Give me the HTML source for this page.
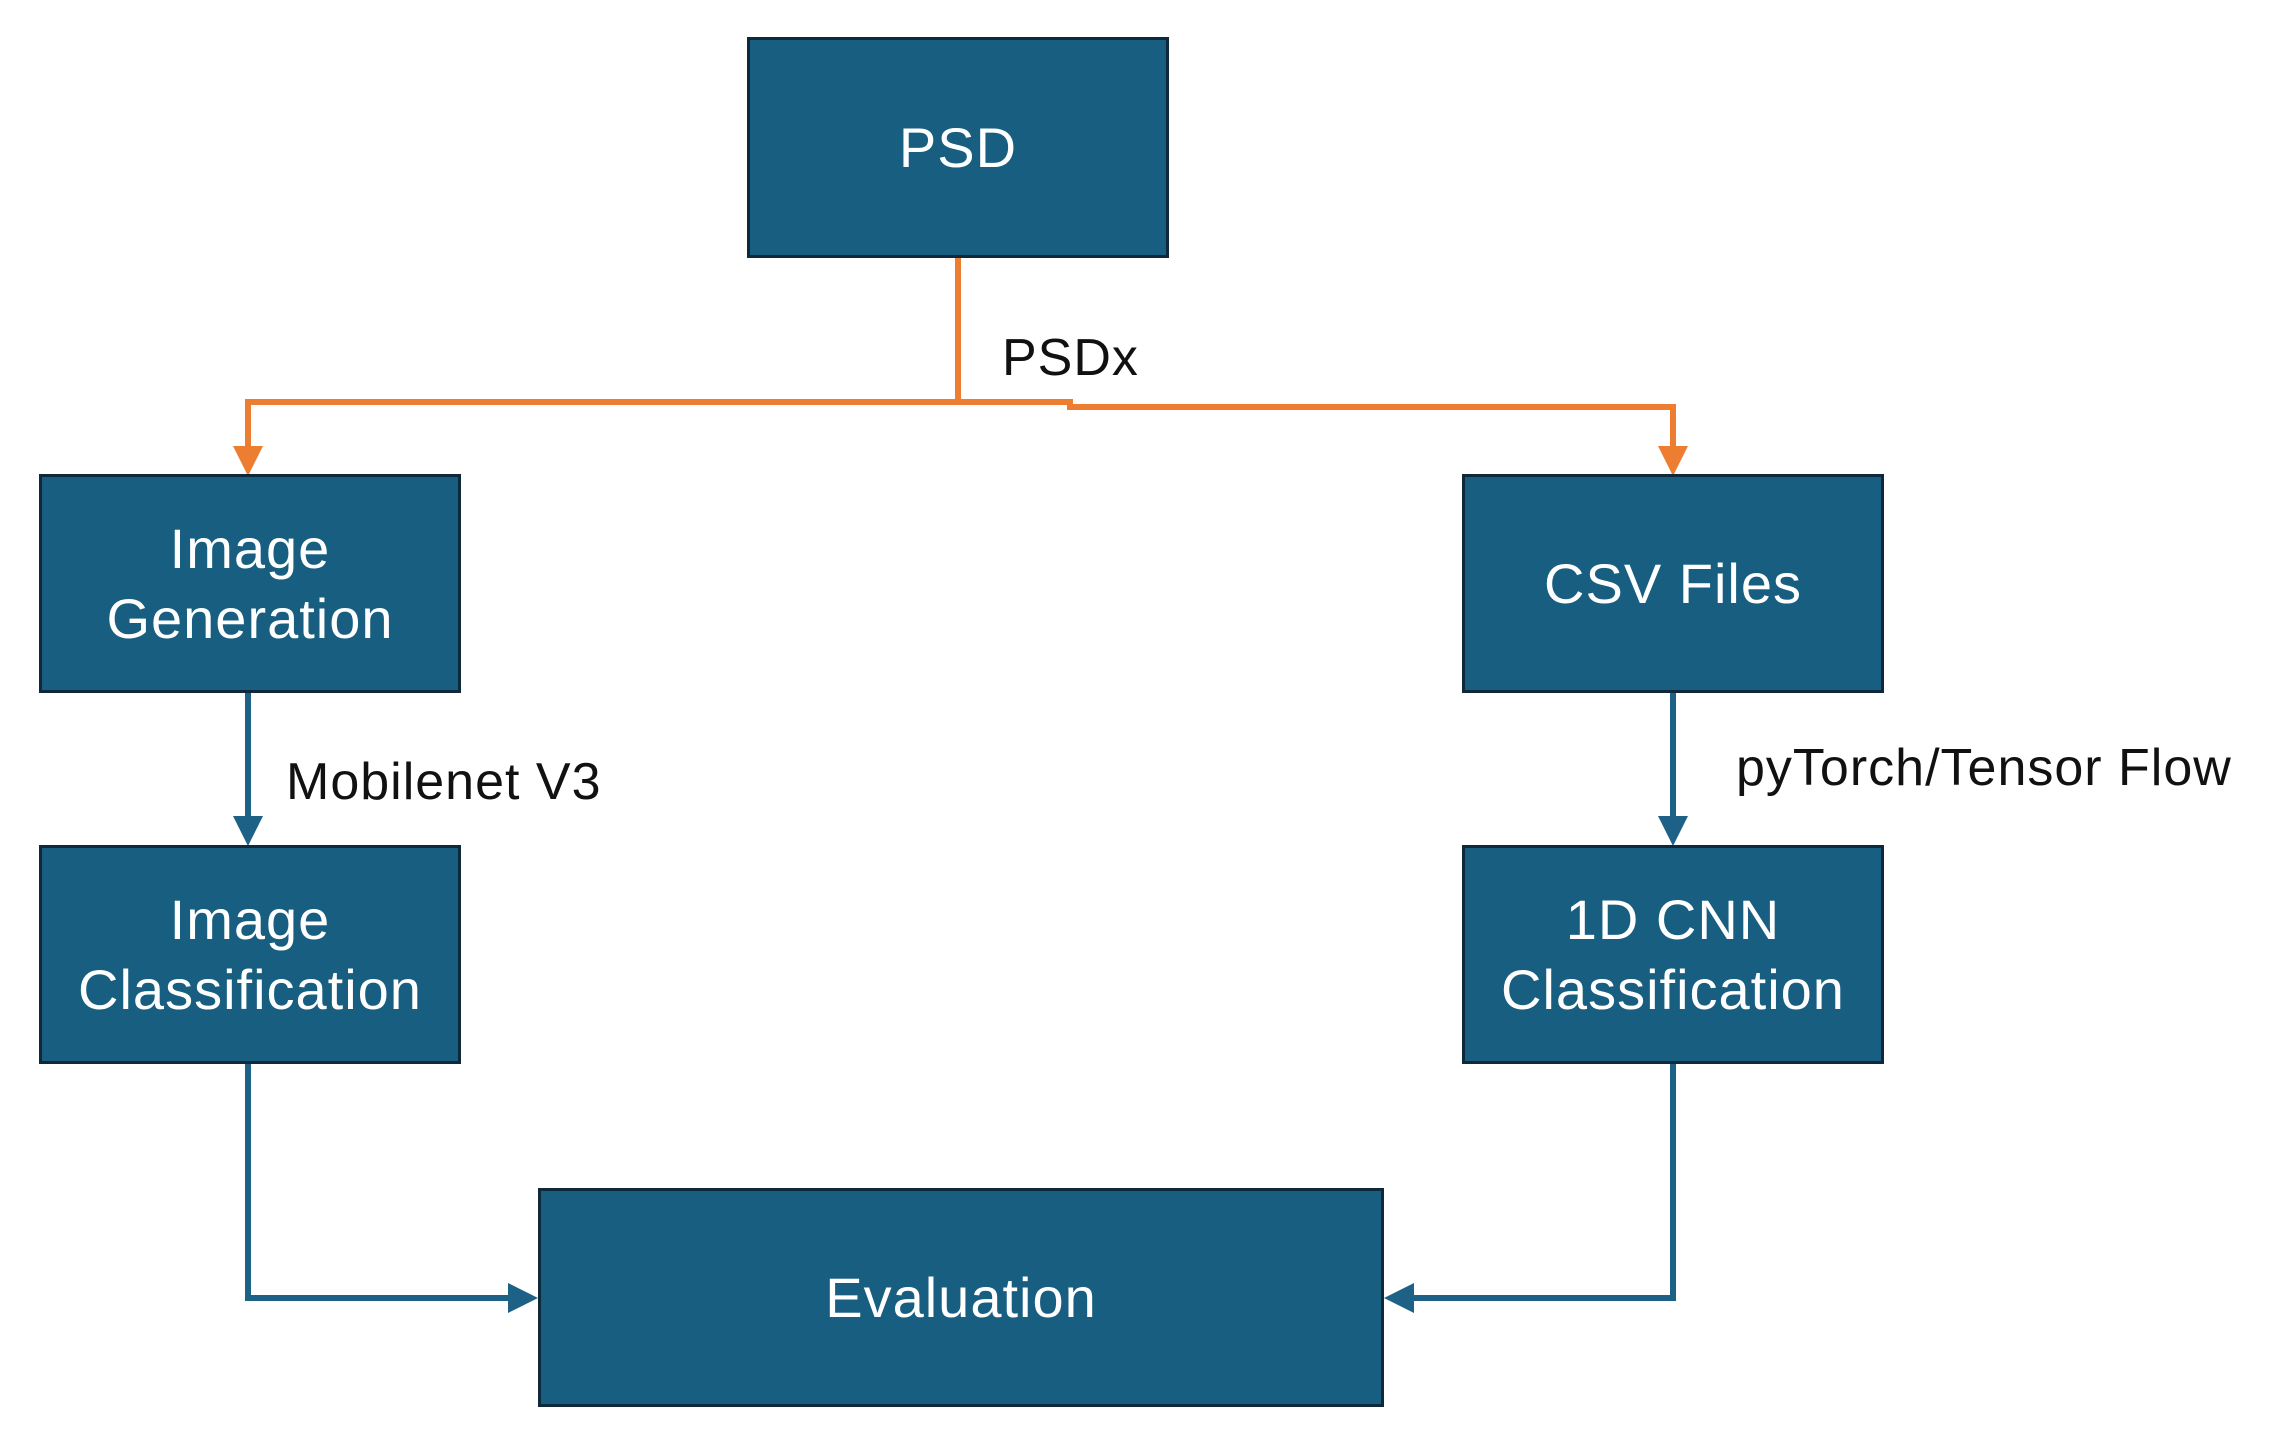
<!DOCTYPE html>
<html><head><style>
body{margin:0;background:#fff;width:2277px;height:1444px;overflow:hidden;font-family:"Liberation Sans",sans-serif}
.b{position:absolute;background:#175e80;border:3px solid #10293a;box-sizing:border-box;color:#fff;font-size:56px;display:flex;align-items:center;justify-content:center;text-align:center;line-height:70px;letter-spacing:1px}
.l{position:absolute;font-size:52px;color:#111;white-space:nowrap;letter-spacing:1px}
</style></head><body>
<svg width="2277" height="1444" style="position:absolute;left:0;top:0">
<defs>
<marker id="o" markerWidth="5" markerHeight="5" refX="4" refY="2.5" orient="auto"><path d="M0,0L5,2.5L0,5z" fill="#ed7d31"/></marker>
<marker id="bl" markerWidth="5" markerHeight="5" refX="4" refY="2.5" orient="auto"><path d="M0,0L5,2.5L0,5z" fill="#1d6187"/></marker>
</defs>
<g fill="none" stroke-width="6">
<path d="M958,258V402H248V470" stroke="#ed7d31" marker-end="url(#o)"/>
<path d="M958,402H1070V407H1673V470" stroke="#ed7d31" marker-end="url(#o)"/>
<path d="M248,693V840" stroke="#1d6187" marker-end="url(#bl)"/>
<path d="M1673,693V840" stroke="#1d6187" marker-end="url(#bl)"/>
<path d="M248,1064V1298H532" stroke="#1d6187" marker-end="url(#bl)"/>
<path d="M1673,1064V1298H1390" stroke="#1d6187" marker-end="url(#bl)"/>
</g></svg>
<div class="b" style="left:747px;top:37px;width:422px;height:221px">PSD</div>
<div class="b" style="left:39px;top:474px;width:422px;height:219px">Image<br>Generation</div>
<div class="b" style="left:1462px;top:474px;width:422px;height:219px">CSV Files</div>
<div class="b" style="left:39px;top:845px;width:422px;height:219px">Image<br>Classification</div>
<div class="b" style="left:1462px;top:845px;width:422px;height:219px">1D CNN<br>Classification</div>
<div class="b" style="left:538px;top:1188px;width:846px;height:219px">Evaluation</div>
<div class="l" style="left:1002px;top:328px">PSDx</div>
<div class="l" style="left:286px;top:752px">Mobilenet V3</div>
<div class="l" style="left:1736px;top:738px">pyTorch/Tensor Flow</div>
</body></html>
